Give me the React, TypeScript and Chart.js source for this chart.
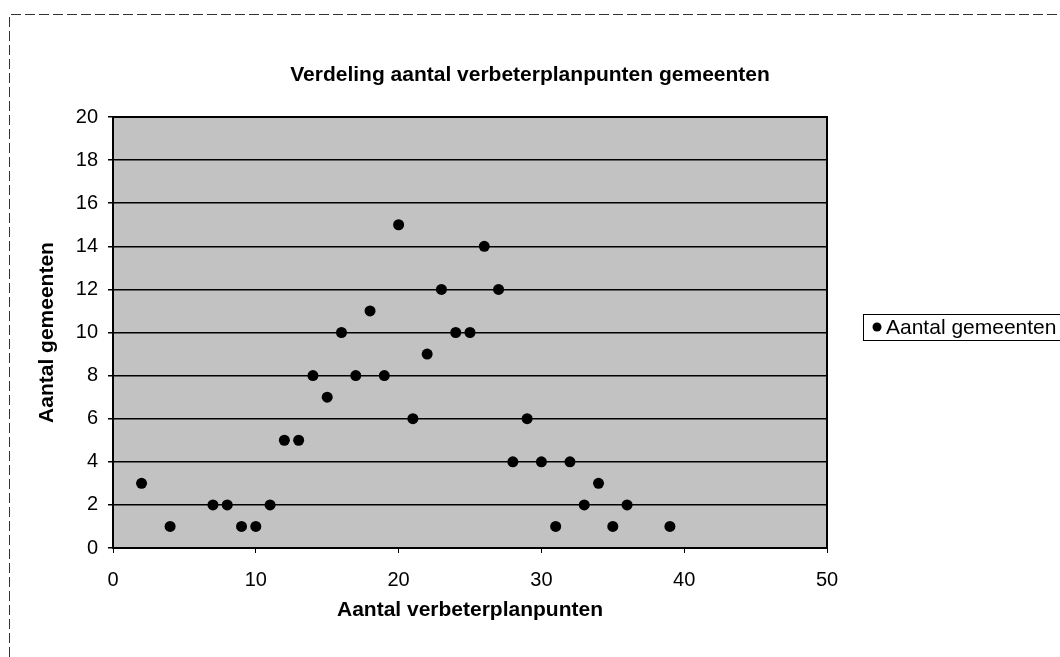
import React, { useEffect, useRef } from 'react';
import { Chart, registerables } from 'chart.js';

Chart.register(...registerables);

const chartTitle = 'Verdeling aantal verbeterplanpunten gemeenten';
const xAxisTitle = 'Aantal verbeterplanpunten';
const yAxisTitle = 'Aantal gemeenten';
const seriesLabel = 'Aantal gemeenten';

const xValues = [2, 4, 7, 8, 9, 10, 11, 12, 13, 14, 15, 16, 17, 18, 19, 20, 21, 22, 23, 24, 25, 26, 27, 28, 29, 30, 31, 32, 33, 34, 35, 36, 39];
const yValues = [3, 1, 2, 2, 1, 1, 2, 5, 5, 8, 7, 10, 8, 11, 8, 15, 6, 9, 12, 10, 10, 14, 12, 4, 6, 4, 1, 4, 2, 3, 1, 2, 1];

const xTicks = [0, 10, 20, 30, 40, 50];
const yTicks = [0, 2, 4, 6, 8, 10, 12, 14, 16, 18, 20];

const FONT = "'Liberation Sans', Arial, sans-serif";

const decorPlugin = {
  id: 'decor',
  beforeDraw(chart: any) {
    const { ctx, chartArea } = chart;
    ctx.save();
    ctx.fillStyle = '#ffffff';
    ctx.fillRect(0, 0, chart.width, chart.height);
    // dashed outer frame
    ctx.strokeStyle = '#333333';
    ctx.lineWidth = 1;
    ctx.setLineDash([10, 4]);
    ctx.beginPath();
    ctx.moveTo(9.5, chart.height);
    ctx.lineTo(9.5, 14.5);
    ctx.lineTo(chart.width, 14.5);
    ctx.stroke();
    ctx.setLineDash([]);
    // plot background
    ctx.fillStyle = '#c2c2c2';
    ctx.fillRect(chartArea.left, chartArea.top, chartArea.right - chartArea.left, chartArea.bottom - chartArea.top);
    ctx.restore();
  },
  afterDatasetsDraw(chart: any) {
    const { ctx, chartArea } = chart;
    ctx.save();
    ctx.strokeStyle = '#000000';
    ctx.lineWidth = 2;
    ctx.strokeRect(chartArea.left, chartArea.top, chartArea.right - chartArea.left, chartArea.bottom - chartArea.top);
    // legend
    const boxLeft = 863;
    const boxTop = 314;
    const boxH = 26;
    ctx.lineWidth = 1;
    ctx.strokeStyle = '#000000';
    ctx.fillStyle = '#ffffff';
    ctx.fillRect(boxLeft, boxTop, chart.width - boxLeft + 10, boxH);
    ctx.strokeRect(boxLeft + 0.5, boxTop + 0.5, chart.width - boxLeft + 10, boxH);
    ctx.fillStyle = '#000000';
    ctx.beginPath();
    ctx.arc(boxLeft + 14, boxTop + boxH / 2, 4.5, 0, Math.PI * 2);
    ctx.fill();
    ctx.font = `21px ${FONT}`;
    ctx.textBaseline = 'middle';
    ctx.textAlign = 'left';
    ctx.fillText(chart.data.datasets[0].label, boxLeft + 23, boxTop + boxH / 2 + 1);
    ctx.restore();
  },
};

export default function App() {
  const ref = useRef<HTMLCanvasElement | null>(null);

  useEffect(() => {
    if (!ref.current) return;
    const points = xValues.map((x, i) => ({ x, y: yValues[i] }));
    const chart = new Chart(ref.current, {
      type: 'scatter',
      data: {
        datasets: [
          {
            label: seriesLabel,
            data: points,
            backgroundColor: '#000000',
            borderColor: '#000000',
            pointRadius: 5.5,
            pointHoverRadius: 5.5,
            borderWidth: 0,
          },
        ],
      },
      options: {
        responsive: false,
        animation: false,
        devicePixelRatio: 1,
        layout: { padding: { left: 0, right: 0, top: 0, bottom: 0 } },
        plugins: {
          legend: { display: false },
          tooltip: { enabled: false },
          title: {
            display: true,
            text: chartTitle,
            color: '#000000',
            font: { family: FONT, size: 21, weight: 'bold', lineHeight: 1.2 },
            padding: { top: 62.4, bottom: 29.4 },
          },
        },
        scales: {
          x: {
            type: 'linear',
            min: 0,
            max: 50,
            afterBuildTicks: (scale: any) => {
              scale.ticks = xTicks.map((v) => ({ value: v }));
            },
            afterFit: (scale: any) => {
              scale.height = 109;
            },
            ticks: {
              color: '#000000',
              font: { family: FONT, size: 20 },
              padding: 15,
            },
            grid: {
              drawOnChartArea: false,
              drawTicks: true,
              tickLength: 5,
              color: '#000000',
            },
            border: { display: true, color: '#000000', width: 2 },
            title: {
              display: true,
              text: xAxisTitle,
              color: '#000000',
              font: { family: FONT, size: 21, weight: 'bold', lineHeight: 1.2 },
              padding: { top: 0, bottom: 34.4 },
            },
          },
          y: {
            type: 'linear',
            min: 0,
            max: 20,
            afterBuildTicks: (scale: any) => {
              scale.ticks = yTicks.map((v) => ({ value: v }));
            },
            afterFit: (scale: any) => {
              scale.width = 113;
            },
            ticks: {
              color: '#000000',
              font: { family: FONT, size: 20 },
              padding: 10,
            },
            grid: {
              color: '#000000',
              lineWidth: 1.5,
              drawTicks: true,
              tickLength: 5,
            },
            border: { display: true, color: '#000000', width: 2 },
            title: {
              display: true,
              text: yAxisTitle,
              color: '#000000',
              font: { family: FONT, size: 21, weight: 'bold', lineHeight: 1.2 },
              padding: { top: 34.4, bottom: 0 },
            },
          },
          legendSpace: {
            type: 'linear',
            position: 'right',
            display: true,
            afterFit: (scale: any) => {
              scale.width = 233;
            },
            ticks: { display: false },
            grid: { display: false },
            border: { display: false },
          },
        },
      },
      plugins: [decorPlugin],
    });
    return () => chart.destroy();
  }, []);

  return (
    <div style={{ position: 'absolute', left: 0, top: 0, width: 1060, height: 657 }}>
      <canvas ref={ref} width={1060} height={657} style={{ width: 1060, height: 657 }} />
    </div>
  );
}
